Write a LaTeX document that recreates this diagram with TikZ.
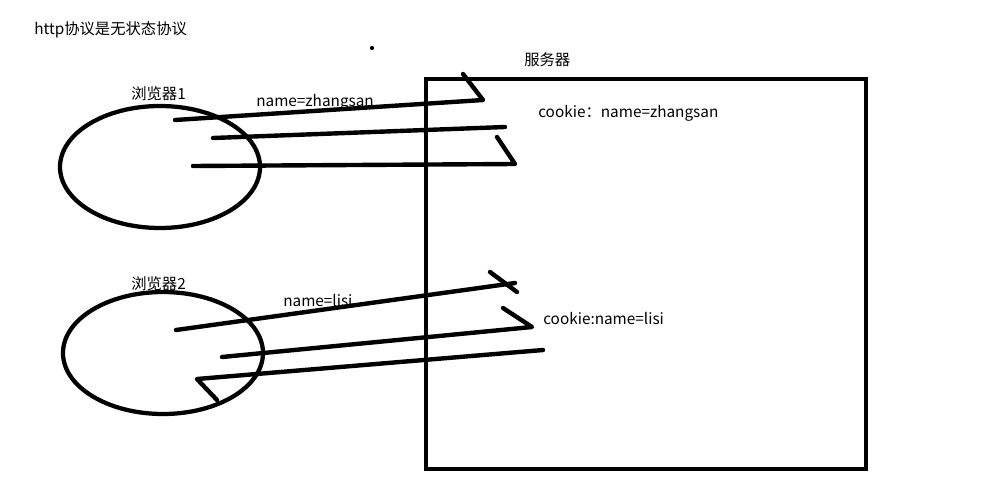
\documentclass[tikz,border=0pt]{standalone}
\usepackage{fontspec}
\setmainfont{Noto Sans CJK SC}
\usetikzlibrary{shapes.geometric}

\begin{document}
\begin{tikzpicture}[
    x=0.75pt, y=-0.75pt,
    lbl/.style={font=\fontsize{11.5}{13}\selectfont, inner sep=0pt, anchor=west},
    pen/.style={line width=3.3pt, line cap=round, line join=round},
    browser/.style={draw, ellipse, line width=3.2pt, inner sep=0pt, minimum width=150pt, minimum height=91.5pt},
]
    \useasboundingbox (0,0) rectangle (981,492);

    % title and stray dot
    \node[lbl] (title) at (34,30) {http协议是无状态协议};
    \fill (372,48) circle (1.6pt) coordinate (dot);

    % server
    \node[draw, line width=3.4pt, minimum width=330pt, minimum height=292.5pt, inner sep=0pt] (server) at (646,274) {};
    \node[lbl] (serverlbl) at (524,60) {服务器};
    \node[lbl] (cookieA) at (538,113) {cookie：name=zhangsan};
    \node[lbl] (cookieB) at (543,318) {cookie:name=lisi};

    % browsers
    \node[browser] (b1) at (160,167) {};
    \node[lbl] (b1lbl) at (131,94) {浏览器1};
    \node[browser] (b2) at (163,353) {};
    \node[lbl] (b2lbl) at (131,284) {浏览器2};

    % browser 1 strokes
    \coordinate (a1s) at (175,120);
    \coordinate (a1e) at (483,100);
    \coordinate (a1t) at (463,74);
    \coordinate (a2s) at (213,138);
    \coordinate (a2e) at (505,127);
    \coordinate (a3s) at (193,166);
    \coordinate (a3e) at (515,164);
    \coordinate (a3t) at (497,137);
    \draw[pen] (a1s) -- (a1e) -- (a1t);
    \draw[pen] (a2s) -- (a2e);
    \draw[pen] (a3s) -- (a3e) -- (a3t);
    \node[lbl] (reqA) at (256,102) {name=zhangsan};

    % browser 2 strokes
    \coordinate (c1s) at (176,330);
    \coordinate (c1e) at (515,283);
    \coordinate (c1t) at (490,272);
    \coordinate (c1u) at (517,292);
    \coordinate (c2s) at (222,357);
    \coordinate (c2e) at (532,327);
    \coordinate (c2t) at (503,308);
    \coordinate (c3s) at (197,379);
    \coordinate (c3e) at (543,350);
    \coordinate (c3t) at (217,400);
    \draw[pen] (c1s) -- (c1e);
    \draw[pen] (c1t) -- (c1u);
    \draw[pen] (c2s) -- (c2e) -- (c2t);
    \draw[pen] (c3e) -- (c3s) -- (c3t);
    \node[lbl] (reqB) at (283,300) {name=lisi};
\end{tikzpicture}
\end{document}
